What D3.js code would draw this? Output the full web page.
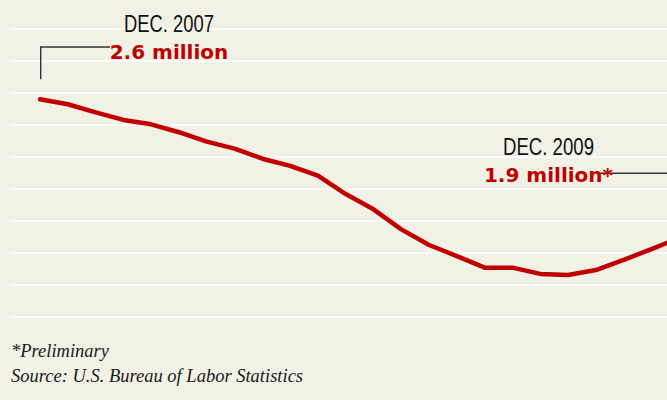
<!DOCTYPE html>
<html>
<head>
<meta charset="utf-8">
<script src="https://cdn.jsdelivr.net/npm/d3@7"></script>
<style>
  html, body { margin: 0; padding: 0; background: #f2f1e6; }
  svg { display: block; }
</style>
</head>
<body>
<div id="chart"></div>
<script>
// months since Dec. 2007 (0 = Dec 2007, 24 = Dec 2009)
const months = ["Dec 2007", "Jan 2008", "Feb 2008", "Mar 2008", "Apr 2008", "May 2008", "Jun 2008",
    "Jul 2008", "Aug 2008", "Sep 2008", "Oct 2008", "Nov 2008", "Dec 2008", "Jan 2009", "Feb 2009",
    "Mar 2009", "Apr 2009", "May 2009", "Jun 2009", "Jul 2009", "Aug 2009", "Sep 2009", "Oct 2009",
    "Nov 2009", "Dec 2009"];
// values in millions
const values = [2.600, 2.573, 2.529, 2.488, 2.464, 2.421, 2.370, 2.332, 2.277, 2.238, 2.185, 2.085,
    2.002, 1.893, 1.808, 1.748, 1.685, 1.685, 1.651, 1.645, 1.672, 1.727, 1.786, 1.846, 1.900];
const gridLines = d3.range(10);
const callouts = [
    {month: 0, head: "DEC. 2007", value: "2.6 million"},
    {month: 24, head: "DEC. 2009", value: "1.9 million*"}
];
const notes = ["*Preliminary", "Source: U.S. Bureau of Labor Statistics"];

const width = 667;
const height = 400;

const data = months.map((m, i) => ({i: i, month: m, value: values[i]}));

const x = d3.scaleLinear().domain([0, 24]).range([40, 707]);
const y = d3.scaleLinear().domain([1.6, 2.6]).range([283.3, 99.3]);
const gy = d3.scaleLinear().domain([0, 9]).range([29.3, 317.3]);

const svg = d3.select("#chart").append("svg")
    .attr("width", width)
    .attr("height", height);

svg.append("rect")
    .attr("width", width)
    .attr("height", height)
    .attr("fill", "#f2f1e6");

// background rules
svg.append("g")
    .selectAll("line")
    .data(gridLines)
    .join("line")
    .attr("x1", 10)
    .attr("x2", width)
    .attr("y1", d => gy(d))
    .attr("y2", d => gy(d))
    .attr("stroke", "#ffffff")
    .attr("stroke-width", 1.6);

const line = d3.line()
    .x(d => x(d.i))
    .y(d => y(d.value));

svg.append("path")
    .datum(data)
    .attr("d", line)
    .attr("fill", "none")
    .attr("stroke", "#c00000")
    .attr("stroke-width", 4.5)
    .attr("stroke-linejoin", "round")
    .attr("stroke-linecap", "round");

// leader lines
const lead = svg.append("g")
    .attr("fill", "none")
    .attr("stroke", "#333")
    .attr("stroke-width", 1.4);

const c0 = callouts[0];
lead.append("path")
    .attr("d", `M${x(c0.month) + 0.7},${y(values[c0.month]) - 20}V47H110`);

const c1 = callouts[1];
lead.append("path")
    .attr("d", `M600,173.3H${x(c1.month) - 8}V${y(values[c1.month]) - 12}`);

// callout text
const labelPos = [{x: 169, y1: 31.5, y2: 59, w: 90}, {x: 548.5, y1: 154.5, y2: 182, w: 91}];
callouts.forEach((c, k) => {
    svg.append("text")
        .attr("x", labelPos[k].x)
        .attr("y", labelPos[k].y1)
        .attr("text-anchor", "middle")
        .attr("textLength", labelPos[k].w)
        .attr("lengthAdjust", "spacingAndGlyphs")
        .style("font-family", "'Liberation Sans', sans-serif")
        .style("font-size", "23px")
        .style("font-weight", "500")
        .attr("fill", "#111")
        .text(c.head);
    svg.append("text")
        .attr("x", labelPos[k].x)
        .attr("y", labelPos[k].y2)
        .attr("text-anchor", "middle")
        .style("font-family", "'DejaVu Sans', sans-serif")
        .style("font-weight", "bold")
        .style("font-size", "20px")
        .attr("fill", "#c00000")
        .text(c.value);
});

svg.append("g")
    .selectAll("text")
    .data(notes)
    .join("text")
    .attr("x", 11)
    .attr("y", (d, i) => 357 + i * 25)
    .style("font-family", "'Liberation Serif', serif")
    .style("font-style", "italic")
    .style("font-size", "18.5px")
    .attr("fill", "#1a1a1a")
    .text(d => d);
</script>
</body>
</html>
